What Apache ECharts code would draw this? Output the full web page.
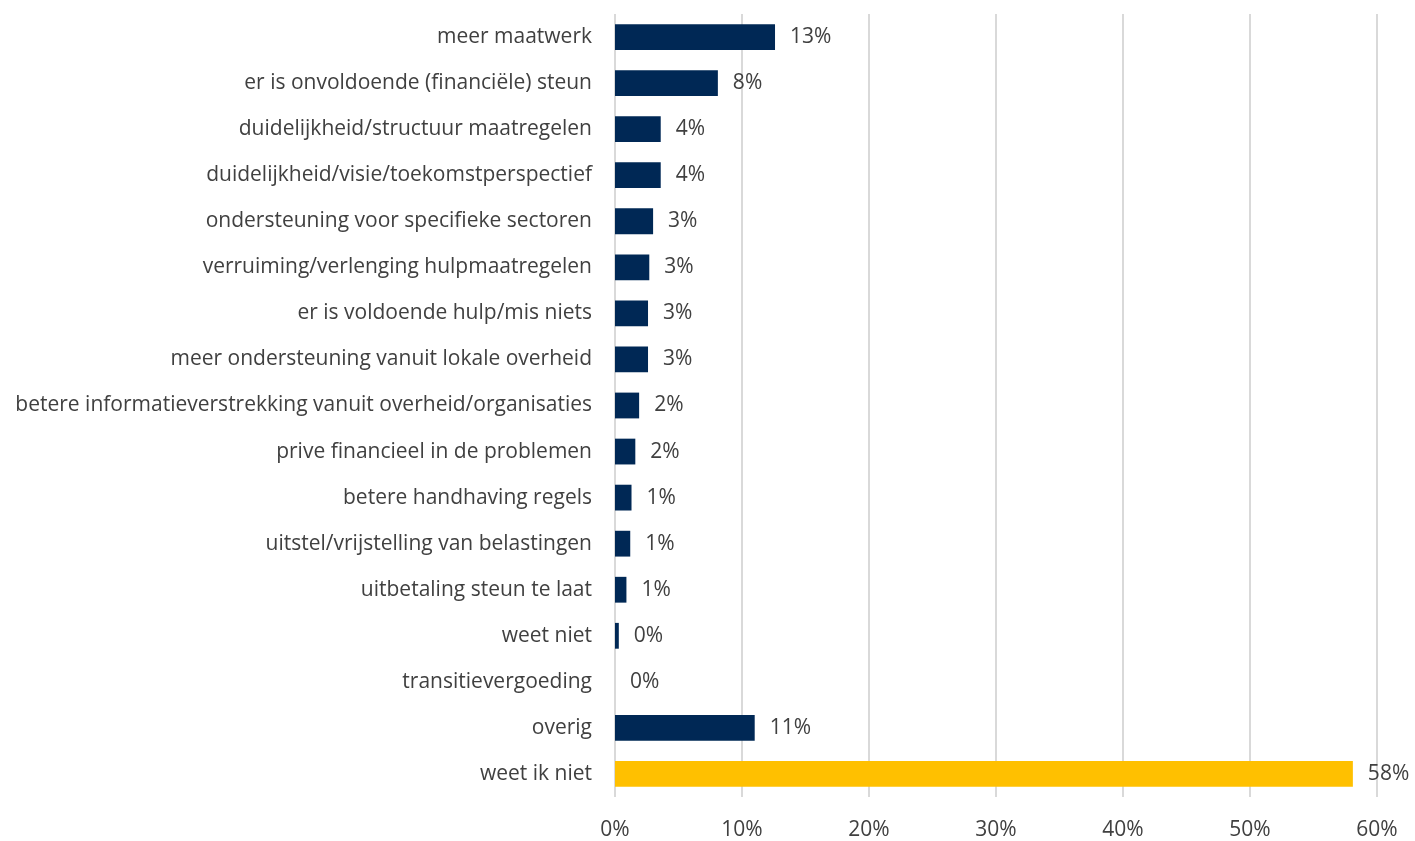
<!DOCTYPE html>
<html>
<head>
<meta charset="utf-8">
<script src="https://cdn.jsdelivr.net/npm/echarts@6/dist/echarts.min.js"></script>
<style>html,body{margin:0;padding:0;background:#fff;}#c{width:1415px;height:841px;}</style>
</head>
<body>
<div id="c"></div>
<script>
const categories = [
  "meer maatwerk",
  "er is onvoldoende (financiële) steun",
  "duidelijkheid/structuur maatregelen",
  "duidelijkheid/visie/toekomstperspectief",
  "ondersteuning voor specifieke sectoren",
  "verruiming/verlenging hulpmaatregelen",
  "er is voldoende hulp/mis niets",
  "meer ondersteuning vanuit lokale overheid",
  "betere informatieverstrekking vanuit overheid/organisaties",
  "prive financieel in de problemen",
  "betere handhaving regels",
  "uitstel/vrijstelling van belastingen",
  "uitbetaling steun te laat",
  "weet niet",
  "transitievergoeding",
  "overig",
  "weet ik niet"
];
const values = [12.6, 8.1, 3.6, 3.6, 3.0, 2.7, 2.6, 2.6, 1.9, 1.6, 1.3, 1.2, 0.9, 0.3, 0.0, 11.0, 58.1];
const highlightCategory = "weet ik niet";
const xTicks = [0, 10, 20, 30, 40, 50, 60];

const chart = echarts.init(document.getElementById('c'));
const font = '"Open Sans", sans-serif';
chart.setOption({
  animation: false,
  grid: {left: 615, right: 38, top: 14, bottom: 39, containLabel: false},
  xAxis: {
    type: 'value', min: xTicks[0], max: xTicks[xTicks.length - 1], interval: 10,
    axisLine: {show: false}, axisTick: {show: false},
    splitLine: {lineStyle: {color: '#d9d9d9', width: 2}},
    axisLabel: {formatter: v => v + '%', color: '#404040', fontSize: 21, fontFamily: font, margin: 23}
  },
  yAxis: {
    type: 'category', data: categories, inverse: true,
    axisLine: {show: false}, axisTick: {show: false},
    axisLabel: {color: '#404040', fontSize: 21, fontFamily: font, margin: 23}
  },
  series: [{
    type: 'bar',
    data: values.map((v, i) => ({
      value: v,
      itemStyle: {color: categories[i] === highlightCategory ? '#FFC000' : '#002855'}
    })),
    barCategoryGap: '44%',
    label: {
      show: true, position: 'right', distance: 15,
      formatter: p => Math.round(p.value) + '%',
      color: '#404040', fontSize: 21, fontFamily: font
    }
  }]
});
</script>
</body>
</html>
